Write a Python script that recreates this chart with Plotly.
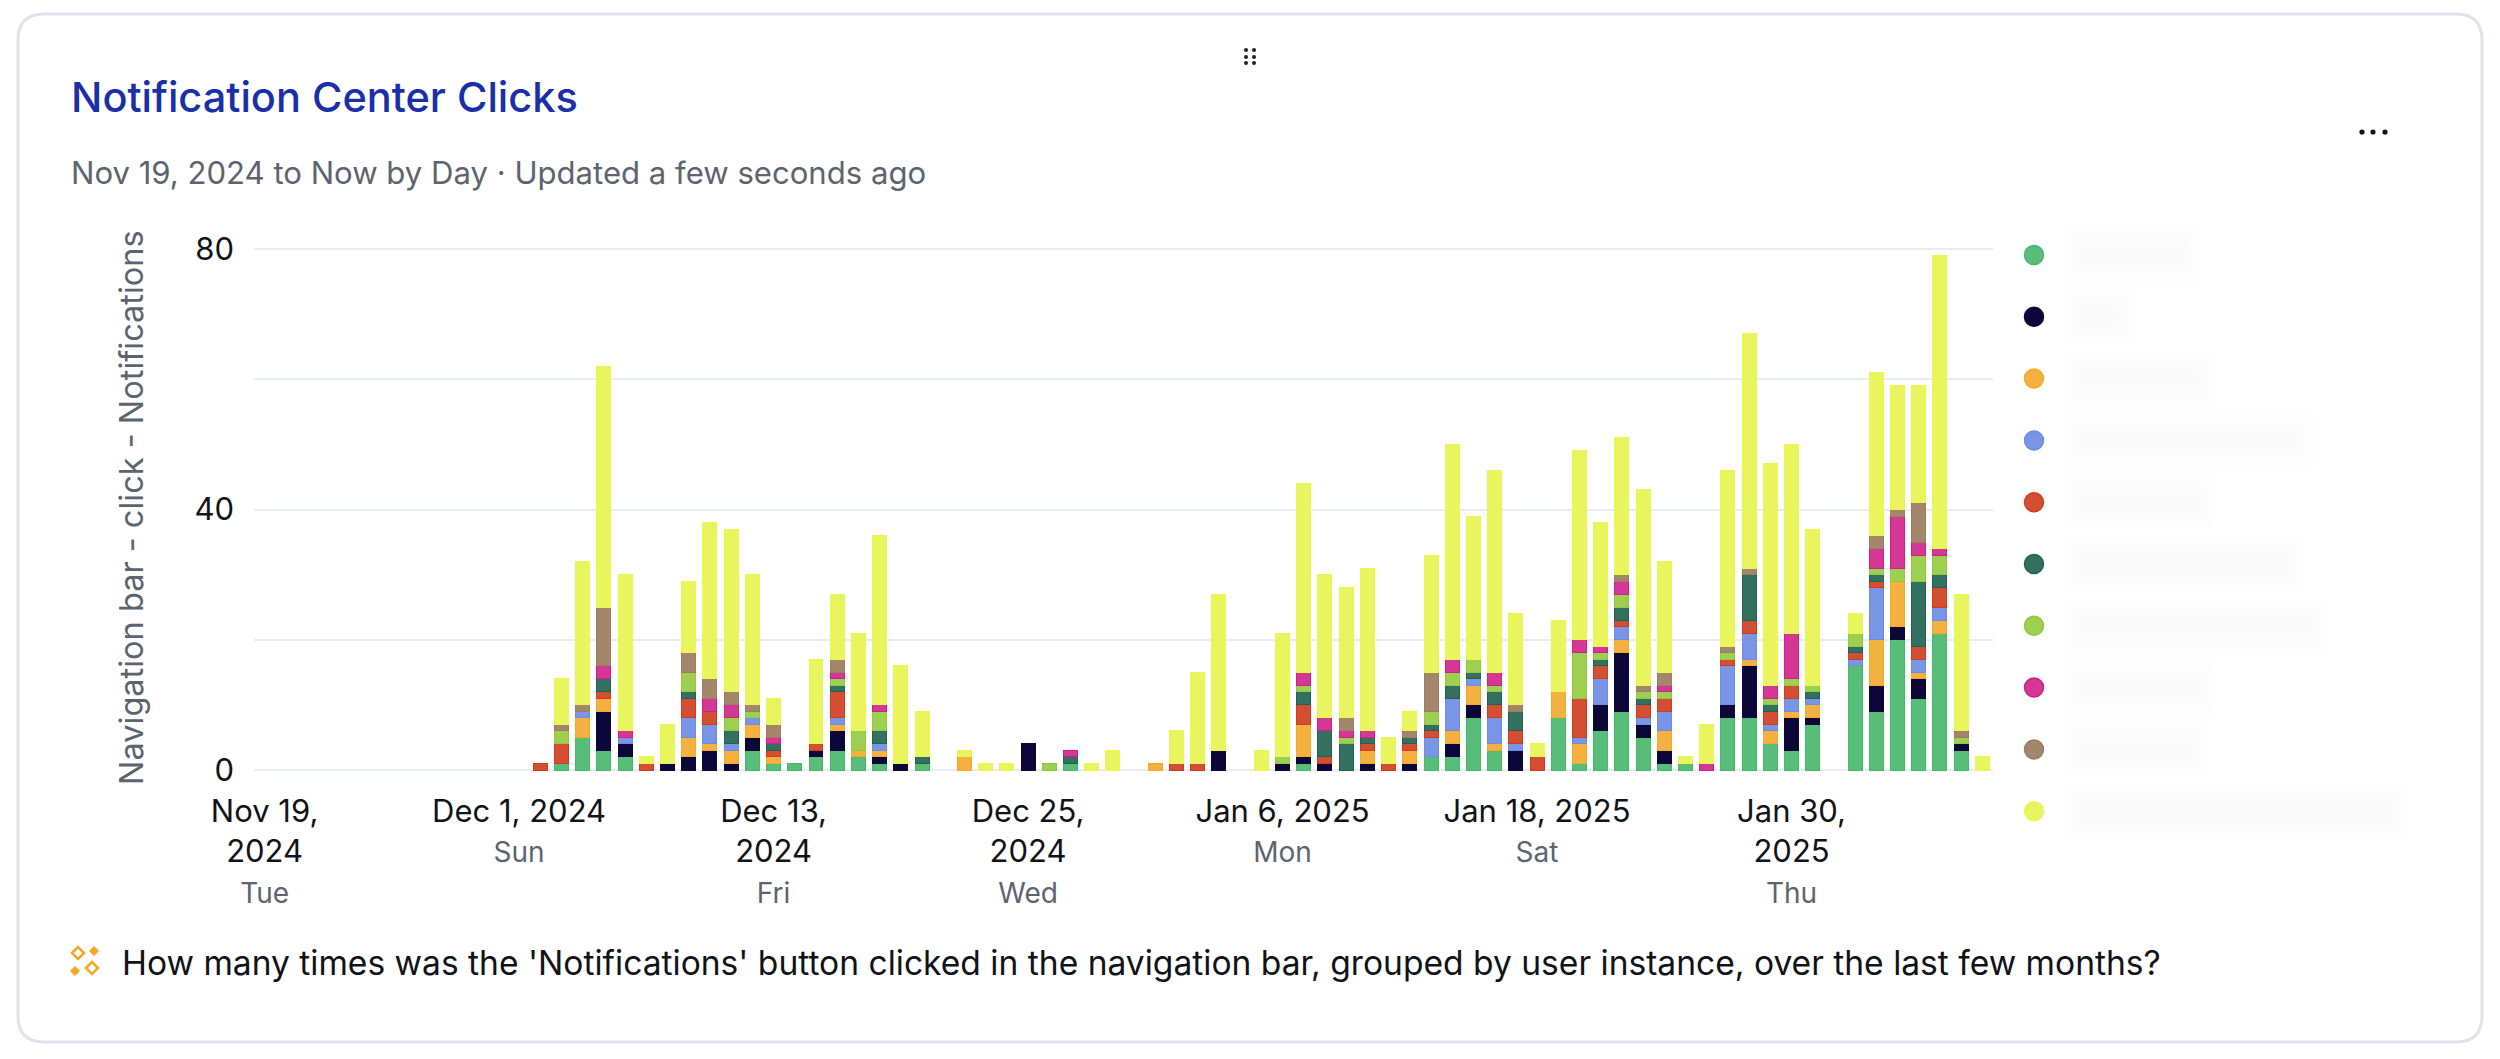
import pandas as pd
import plotly.graph_objects as go

# plot area in page pixels
W, H = 2500, 1059
L, R, T, B = 254, 1993, 249, 770
# gridlines at the very edge of an axis get dropped, so leave a few px spare
PAD = 3
UNIT = (B - T) / 80
# legend rows, page pixels
LEG_Y0, LEG_STEP = 255, 61.8

days = pd.date_range('2024-11-19', periods=82).strftime('%Y-%m-%d').tolist()

tick_days = ['2024-11-19', '2024-12-01', '2024-12-13', '2024-12-25', '2025-01-06', '2025-01-18', '2025-01-30']
tick_dates = ['Nov 19,<br>2024', 'Dec 1, 2024', 'Dec 13,<br>2024', 'Dec 25,<br>2024', 'Jan 6, 2025', 'Jan 18, 2025', 'Jan 30,<br>2025']
tick_weekdays = ['Tue', 'Sun', 'Fri', 'Wed', 'Mon', 'Sat', 'Thu']

y_ticks = [0, 20, 40, 60, 80]
y_labels = ['0', '', '40', '', '80']

# real instance names are blurred in the screenshot, so series go by colour
green = [0] * 10 + [0, 0, 0, 0, 1, 5, 3, 2, 0, 0,
                    0, 0, 0, 3, 1, 1, 2, 3, 2, 1,
                    0, 1, 0, 0, 0, 0, 0, 0, 1, 0,
                    0, 0, 0, 0, 0, 0, 0, 0, 0, 1,
                    0, 0, 0, 0, 0, 2, 2, 8, 3, 0,
                    0, 8, 1, 6, 9, 5, 1, 1, 0, 8,
                    8, 4, 3, 7, 0, 16, 9, 20, 11, 21,
                    3, 0]
navy = [0] * 10 + [0, 0, 0, 0, 0, 0, 6, 2, 0, 1,
                   2, 3, 1, 2, 0, 0, 1, 3, 0, 1,
                   1, 0, 0, 0, 0, 0, 4, 0, 0, 0,
                   0, 0, 0, 0, 0, 3, 0, 0, 1, 1,
                   1, 0, 1, 0, 1, 0, 2, 2, 0, 3,
                   0, 0, 0, 4, 9, 2, 2, 0, 0, 2,
                   8, 0, 5, 1, 0, 0, 4, 2, 3, 0,
                   1, 0]
orange = [0] * 10 + [0, 0, 0, 0, 0, 3, 2, 0, 0, 0,
                     3, 1, 2, 2, 1, 0, 0, 1, 1, 1,
                     0, 0, 0, 2, 0, 0, 0, 0, 0, 0,
                     0, 0, 1, 0, 0, 0, 0, 0, 0, 5,
                     0, 0, 2, 0, 2, 0, 2, 3, 1, 0,
                     0, 4, 3, 0, 2, 0, 3, 0, 0, 0,
                     1, 2, 1, 2, 0, 0, 7, 7, 1, 2,
                     0, 0]
blue = [0] * 10 + [0, 0, 0, 0, 0, 1, 0, 1, 0, 0,
                   3, 3, 1, 1, 0, 0, 0, 1, 0, 1,
                   0, 0, 0, 0, 0, 0, 0, 0, 0, 0,
                   0, 0, 0, 0, 0, 0, 0, 0, 0, 0,
                   0, 0, 0, 0, 0, 3, 5, 1, 4, 1,
                   0, 0, 1, 4, 2, 1, 3, 0, 0, 6,
                   4, 1, 2, 1, 0, 1, 8, 0, 2, 2,
                   0, 0]
red = [0] * 10 + [0, 0, 0, 1, 3, 0, 1, 0, 1, 0,
                  3, 2, 0, 0, 1, 0, 1, 4, 0, 0,
                  0, 0, 0, 0, 0, 0, 0, 0, 0, 0,
                  0, 0, 0, 1, 1, 0, 0, 0, 0, 3,
                  1, 0, 1, 1, 1, 1, 0, 0, 2, 2,
                  2, 0, 6, 2, 1, 2, 2, 0, 0, 1,
                  2, 2, 2, 0, 0, 1, 1, 0, 2, 3,
                  0, 0]
teal = [0] * 10 + [0, 0, 0, 0, 0, 0, 2, 0, 0, 0,
                   1, 0, 2, 0, 1, 0, 0, 1, 0, 2,
                   0, 1, 0, 0, 0, 0, 0, 0, 1, 0,
                   0, 0, 0, 0, 0, 0, 0, 0, 0, 2,
                   4, 4, 1, 0, 1, 1, 2, 1, 2, 3,
                   0, 0, 0, 1, 2, 1, 0, 0, 0, 0,
                   7, 1, 0, 1, 0, 1, 1, 0, 10, 2,
                   0, 0]
lime = [0] * 10 + [0, 0, 0, 0, 2, 0, 0, 0, 0, 0,
                   3, 0, 2, 1, 0, 0, 0, 1, 3, 3,
                   0, 0, 0, 0, 0, 0, 0, 1, 0, 0,
                   0, 0, 0, 0, 0, 0, 0, 0, 1, 1,
                   0, 1, 0, 0, 0, 2, 2, 2, 1, 0,
                   0, 0, 7, 1, 2, 1, 1, 0, 0, 1,
                   0, 1, 1, 1, 0, 2, 1, 2, 4, 3,
                   1, 0]
magenta = [0] * 10 + [0, 0, 0, 0, 0, 0, 2, 1, 0, 0,
                      0, 2, 2, 0, 1, 0, 0, 1, 0, 1,
                      0, 0, 0, 0, 0, 0, 0, 0, 1, 0,
                      0, 0, 0, 0, 0, 0, 0, 0, 0, 2,
                      2, 1, 1, 0, 0, 0, 2, 0, 2, 0,
                      0, 0, 2, 1, 2, 0, 1, 0, 1, 0,
                      0, 2, 7, 0, 0, 0, 3, 8, 2, 1,
                      0, 0]
brown = [0] * 10 + [0, 0, 0, 0, 1, 1, 9, 0, 0, 0,
                    3, 3, 2, 1, 2, 0, 0, 2, 0, 0,
                    0, 0, 0, 0, 0, 0, 0, 0, 0, 0,
                    0, 0, 0, 0, 0, 0, 0, 0, 0, 0,
                    0, 2, 0, 0, 1, 6, 0, 0, 0, 1,
                    0, 0, 0, 0, 1, 1, 2, 0, 0, 1,
                    1, 0, 0, 0, 0, 0, 2, 1, 6, 0,
                    1, 0]
yellow = [0] * 10 + [0, 0, 0, 0, 7, 22, 37, 24, 1, 6,
                     11, 24, 25, 20, 4, 0, 13, 10, 15, 26,
                     15, 7, 0, 1, 1, 1, 0, 0, 0, 1,
                     3, 0, 0, 5, 14, 24, 0, 3, 19, 29,
                     22, 20, 25, 4, 3, 18, 33, 22, 31, 14,
                     2, 11, 29, 19, 21, 30, 17, 1, 6, 27,
                     36, 34, 29, 24, 0, 3, 25, 19, 18, 45,
                     21, 2]

names = ['green', 'navy', 'orange', 'blue', 'red', 'teal', 'lime', 'magenta', 'brown', 'yellow']
values = [green, navy, orange, blue, red, teal, lime, magenta, brown, yellow]
fills = ['#58bd79', '#0d0639', '#f5b13f', '#7a95e6', '#d24f34', '#33705f', '#9dcf50', '#d43794', '#a4866d', '#e8f55f']
edges = ['#45b86a', '#0d0639', '#f5a82a', '#6c8cea', '#d63a1c', '#1f6253', '#8fc93c', '#d01f88', '#9c7d62', '#e8f84f']
# rough right end of each blurred legend label, in page pixels
label_ends = [2180, 2115, 2195, 2295, 2195, 2285, 2310, 2195, 2190, 2390]

font = 'Inter, sans-serif'
gray = '#5d6470'
dark = '#111318'
amber = '#f5a623'


def px(x):
    return x / W


def py(y):
    return 1 - y / H


fig = go.Figure()

for name, vals, fill, edge in zip(names, values, fills, edges):
    # zeros dropped, otherwise their outline leaves a hairline on the baseline
    fig.add_trace(go.Bar(x=days, y=[v or None for v in vals], name=name, width=0.66,
                         marker=dict(color=fill, line=dict(color=edge, width=1))))

# legend dots, on their own small axes to the right of the plot
leg_top, leg_bottom = 230, 830
fig.add_trace(go.Scatter(x=[0] * len(names), y=list(range(len(names))), mode='markers', xaxis='x2', yaxis='y2',
                         cliponaxis=False,
                         marker=dict(size=19, color=fills, line=dict(color=edges, width=1.5))))

ticktext = []
for d, wd in zip(tick_dates, tick_weekdays):
    ticktext.append(d + '<br><span style="color:%s;font-size:28px">%s</span>' % (gray, wd))

fig.update_layout(
    width=W, height=H,
    margin=dict(l=0, r=0, t=0, b=0, pad=0),
    barmode='stack',
    showlegend=False,
    plot_bgcolor='rgba(0,0,0,0)',
    paper_bgcolor='white',
    font=dict(family=font, color=dark),
    xaxis=dict(domain=[px(L), px(R)], type='category', categoryorder='array', categoryarray=days,
               range=[-0.5, 81.5], tickmode='array', tickvals=tick_days, ticktext=ticktext, tickangle=0,
               tickfont=dict(size=31, color=dark), showgrid=False, zeroline=False, automargin=False,
               showline=False, ticks='', ticklabelstandoff=17),
    yaxis=dict(domain=[py(B + PAD), py(T - PAD)], range=[-PAD / UNIT, 80 + PAD / UNIT], tickmode='array',
               tickvals=y_ticks, ticktext=y_labels, automargin=False,
               tickfont=dict(size=31, color=dark), gridcolor='#e8ecf5', gridwidth=2,
               zeroline=False, showline=False, ticks='', ticklabelstandoff=19),
    xaxis2=dict(domain=[px(2024), px(2044)], range=[-1, 1], anchor='y2', visible=False),
    yaxis2=dict(domain=[py(leg_bottom), py(leg_top)],
                range=[(leg_bottom - LEG_Y0) / LEG_STEP, (leg_top - LEG_Y0) / LEG_STEP],
                anchor='x2', visible=False),
)

# card outline
r = 26
x0, x1, y0, y1 = px(18), px(2482), py(1042), py(14)
rx, ry = r / W, r / H
fig.add_shape(type='path', xref='paper', yref='paper', layer='below',
              path=f'M {x0 + rx} {y0} L {x1 - rx} {y0} Q {x1} {y0} {x1} {y0 + ry} L {x1} {y1 - ry} '
                   f'Q {x1} {y1} {x1 - rx} {y1} L {x0 + rx} {y1} Q {x0} {y1} {x0} {y1 - ry} '
                   f'L {x0} {y0 + ry} Q {x0} {y0} {x0 + rx} {y0} Z',
              line=dict(color='#dfe3eb', width=3))

# blurred legend labels: stacked pale boxes to fake the smudge
for i, end in enumerate(label_ends):
    yc = LEG_Y0 + i * LEG_STEP
    for grow in [20, 15, 10, 5, 0]:
        fig.add_shape(type='rect', xref='paper', yref='paper', layer='below',
                      x0=px(2082 - grow), x1=px(end + grow), y0=py(yc + 8 + grow), y1=py(yc - 8 - grow),
                      fillcolor='black', opacity=0.0055, line=dict(width=0))


def label(text, x, y, size, color, anchor='left', weight=400, angle=0):
    fig.add_annotation(text=text, x=px(x), y=py(y), xref='paper', yref='paper', showarrow=False,
                       xanchor=anchor, yanchor='middle', textangle=angle,
                       font=dict(family=font, size=size, color=color, weight=weight))


def dot(x, y, rad, color):
    fig.add_shape(type='circle', xref='paper', yref='paper', x0=px(x - rad), x1=px(x + rad),
                  y0=py(y + rad), y1=py(y - rad), fillcolor=color, line=dict(width=0))


def diamond(x, y, rad, line_w):
    fig.add_shape(type='path', xref='paper', yref='paper',
                  path=f'M {px(x - rad)} {py(y)} L {px(x)} {py(y - rad)} L {px(x + rad)} {py(y)} L {px(x)} {py(y + rad)} Z',
                  fillcolor='white' if line_w else amber, line=dict(color=amber, width=line_w or 1))


label('Notification Center Clicks', 69, 97, 41.5, '#1a2fa8', weight=500)
label('Nov 19, 2024 to Now by Day · Updated a few seconds ago', 69, 173, 31.1, gray)
label("How many times was the 'Notifications' button clicked in the navigation bar, grouped by user instance, over the last few months?",
      120, 962, 33.6, dark)
label('Navigation bar - click - Notifications', 131, 508, 32.5, gray, 'center', angle=-90)

# sparkle icon, drag handle and menu dots
diamond(78, 953, 6, 2.5)
diamond(92, 968, 6, 2.5)
diamond(94, 951, 4.5, 0)
diamond(75, 971, 4.5, 0)
for hx in [1246, 1254]:
    for hy in [50, 57, 63]:
        dot(hx, hy, 2, '#222222')
for hx in [2362, 2373, 2385]:
    dot(hx, 132, 2.6, dark)

fig.write_html('out.html', config={'displayModeBar': False}, post_script="document.body.style.margin='0';")
